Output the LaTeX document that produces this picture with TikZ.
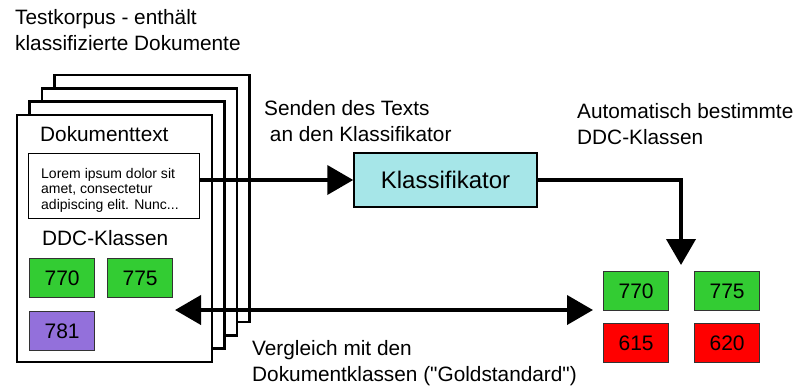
\documentclass[tikz,border=0pt]{standalone}
\usepackage{fontspec}
\setmainfont{Liberation Sans}
\usetikzlibrary{arrows.meta}
\definecolor{ddcgreen}{RGB}{51,204,51}
\definecolor{ddcpurple}{RGB}{147,112,219}
\definecolor{ddcred}{RGB}{255,0,0}
\definecolor{klasscyan}{RGB}{166,230,232}
\begin{document}
\begin{tikzpicture}[x=1pt,y=-1pt,
        >={Triangle[length=26pt,width=29pt]},
        page/.style={draw,fill=white,line width=2.6pt},
        lbl/.style={inner sep=0pt,align=left,anchor=north west,font=\fontsize{20.8}{26}\selectfont},
        ddc/.style={draw=black!80,line width=1.2pt,anchor=north west,minimum width=65pt,minimum height=39pt,inner sep=0pt,font=\fontsize{21}{25}\selectfont},
        flow/.style={line width=4pt}]
        \useasboundingbox (0,0) rectangle (799,386);
        % stack of documents, back to front
        \foreach \i in {3,2,1,0}
            {
                \draw[page] ({17+12.4*\i},{115-13.3*\i}) rectangle +(195,247);
            }
        \node[lbl] (korpus) at (15,9) {Testkorpus - enthält\\klassifizierte Dokumente};
        \node[lbl] (doktitle) at (40,126) {Dokumenttext};
        \node[draw,fill=white,line width=1.2pt,anchor=north west,minimum width=171pt,minimum height=65pt,inner sep=0pt] (docbody) at (28,153) {};
        \node[inner sep=0pt,anchor=north west,align=left,font=\fontsize{14}{15.5}\selectfont] (lorem) at (41,168) {Lorem ipsum dolor sit\\amet, consectetur\\adipiscing elit. Nunc...};
        \node[lbl] (ddctitle) at (42,230) {DDC-Klassen};
        \node[ddc,fill=ddcgreen] (gold770) at (29,258) {770};
        \node[ddc,fill=ddcgreen] (gold775) at (107,258) {775};
        \node[ddc,fill=ddcpurple] (gold781) at (29,311) {781};
        % classifier and its output
        \node[draw,fill=klasscyan,line width=1.5pt,minimum width=183pt,minimum height=54pt,font=\fontsize{24}{28}\selectfont] (klass) at (445.5,180) {Klassifikator};
        \node[lbl] (senden) at (264,100) {Senden des Texts\\\ an den Klassifikator};
        \node[lbl] (auto) at (577,103) {Automatisch bestimmte\\DDC-Klassen};
        \node[ddc,fill=ddcgreen] (auto770) at (603,271) {770};
        \node[ddc,fill=ddcgreen] (auto775) at (694,271) {775};
        \node[ddc,fill=ddcred] (auto615) at (603,323) {615};
        \node[ddc,fill=ddcred] (auto620) at (694,323) {620};
        \node[lbl] (vergleich) at (252,340) {Vergleich mit den\\Dokumentklassen (\textquotedbl Goldstandard\textquotedbl)};
        \coordinate (autotop) at (681,265);
        \coordinate (cmpleft) at (175,310);
        \coordinate (cmpright) at (593,310);
        \draw[flow,->] (docbody.east |- klass.west) -- (klass.west);
        \draw[flow,->] (klass.east) -| (autotop);
        \draw[flow,<->] (cmpleft) -- (cmpright);
    \end{tikzpicture}
\end{document}
